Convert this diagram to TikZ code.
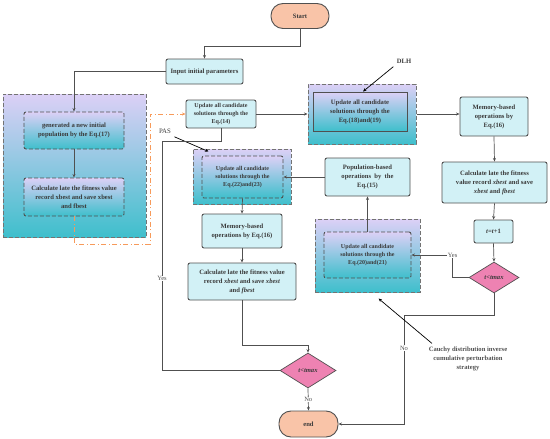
\documentclass[tikz,border=0pt]{standalone}
\usepackage{fontspec}
\setmainfont{Liberation Serif}
\usepackage{xcolor}
\usetikzlibrary{positioning,calc,shapes.geometric,arrows.meta}
\definecolor{linegray}{HTML}{505050}
\definecolor{textgray}{HTML}{3A3A3A}
\definecolor{cyanbox}{HTML}{D2F1F6}
\definecolor{lilac}{HTML}{DCD0F6}
\definecolor{tealbot}{HTML}{3FBFCC}
\definecolor{pinkdia}{HTML}{EE82B2}
\definecolor{salmon}{HTML}{F9C4A8}
\definecolor{orangeline}{HTML}{F79A5A}
\tikzset{
  txt/.style={font=\bfseries\fontsize{6.6}{9}\selectfont, text=textgray, align=center},
  smalltxt/.style={font=\bfseries\fontsize{6}{8}\selectfont, text=textgray, align=center},
  procbox/.style={draw=linegray, line width=0.9pt, rounded corners=2pt, fill=cyanbox, inner sep=1pt},
  gradbox/.style={top color=lilac, bottom color=tealbot},
  outerbox/.style={gradbox, draw=linegray!80, line width=1pt, dash pattern=on 4pt off 2pt},
  innerdash/.style={gradbox, draw=linegray, line width=0.9pt, rounded corners=2pt, dash pattern=on 4pt off 2pt, inner sep=1pt},
  innersolid/.style={gradbox, draw=linegray, line width=0.9pt, inner sep=1pt},
  termbox/.style={draw=linegray, line width=0.9pt, fill=salmon, rounded corners=12pt},
  decide/.style={diamond, draw=linegray, line width=0.7pt, fill=pinkdia, inner sep=0pt},
  flow/.style={draw=linegray, line width=0.7pt},
  lab/.style={font=\fontsize{6.5}{8}\selectfont, text=linegray, fill=white, inner sep=0.5pt},
  >={Stealth[length=3.5pt,width=3pt]}
}
\begin{document}
\begin{tikzpicture}[x=1pt, y=-1pt]
  \useasboundingbox (0,0) rectangle (550,439);

  % start and first block
  \node[termbox, txt, minimum width=58pt, minimum height=25pt] (start) at (300,16) {Start};
  \node[procbox, txt, minimum width=77pt, minimum height=25pt] (input) at (204.5,71.5) {Input initial parameters};

  % initialisation group
  \node[outerbox, minimum width=143pt, minimum height=143pt] (initbg) at (74.5,165.5) {};
  \node[innerdash, txt, minimum width=100pt, minimum height=37pt] (gen) at (74,130.5)
    {generated a new initial\\population by the Eq.(17)};
  \node[innerdash, txt, minimum width=100pt, minimum height=38pt] (calcA) at (74,197)
    {Calculate late the fitness value\\record xbest and save xbest\\and fbest};

  % switching step
  \node[procbox, smalltxt, minimum width=70pt, minimum height=28pt] (eqA) at (221,114)
    {Update all candidate\\solutions through the\\Eq.(14)};

  % DLH branch
  \node[outerbox, minimum width=108pt, minimum height=60pt] (dlhbg) at (362,114) {};
  \node[innersolid, txt, minimum width=94pt, minimum height=39pt] (dlh) at (360,111.5)
    {Update all candidate\\solutions through the\\Eq.(18)and(19)};
  \node[txt] (dlhlab) at (404,61) {DLH};
  \node[procbox, txt, minimum width=68pt, minimum height=39pt] (memR) at (494,116.5)
    {Memory-based\\operations by\\Eq.(16)};
  \node[procbox, txt, minimum width=105pt, minimum height=41pt] (calcR) at (494.5,182.5)
    {Calculate late the fitness\\value record \textit{xbest} and save\\\textit{xbest} and \textit{fbest}};
  \node[procbox, txt, minimum width=39pt, minimum height=23pt] (tinc) at (493.5,231.5) {\textit{t=t}+1};
  \node[decide, txt, minimum width=50pt, minimum height=31pt] (chkR) at (494,277.5) {\textit{t<tmax}};

  % Cauchy branch
  \node[outerbox, minimum width=105pt, minimum height=73pt] (caubg) at (367.5,255.5) {};
  \node[innerdash, smalltxt, minimum width=87pt, minimum height=46pt] (cau) at (367.5,255)
    {Update all candidate\\solutions through the\\Eq.(20)and(21)};
  \node[txt, text=linegray] (caulab) at (468,359)
    {Cauchy distribution inverse\\cumulative perturbation\\strategy};
  \node[procbox, txt, minimum width=85pt, minimum height=38pt] (pop) at (367.5,177)
    {Population-based\\operations~~by~~the\\Eq.(15)};

  % PAS branch
  \node[outerbox, minimum width=98pt, minimum height=55pt] (pasbg) at (242,176.5) {};
  \node[innerdash, smalltxt, minimum width=81pt, minimum height=42pt] (pas) at (242.5,177)
    {Update all candidate\\solutions through the\\Eq.(22)and(23)};
  \node[font=\fontsize{6.8}{8}\selectfont, text=textgray] (paslab) at (165,131) {PAS};
  \node[procbox, txt, minimum width=80pt, minimum height=34pt] (memL) at (242,231)
    {Memory-based\\operations by Eq.(16)};
  \node[procbox, txt, minimum width=108pt, minimum height=37pt] (calcL) at (242,281.5)
    {Calculate late the fitness value\\record \textit{xbest} and save \textit{xbest}\\and \textit{fbest}};
  \node[decide, txt, minimum width=56pt, minimum height=35pt] (chkL) at (308,370.5) {\textit{t<tmax}};
  \node[termbox, txt, minimum width=59pt, minimum height=26pt] (end) at (308.5,424) {end};

  \coordinate (orng) at (150,244);
  \coordinate (yesturn) at (162,141);
  \coordinate (noturn) at (404,424);

  % connectors
  \draw[flow,->] (start.south) -- ++(0,17.5) -| (input.north);
  \draw[flow,->] (input.west) -| (gen.north);
  \draw[flow,->] (gen.south) -- (calcA.north);
  \draw[orangeline, line width=0.9pt, dash pattern=on 5pt off 2.5pt on 1pt off 2.5pt, ->]
    (calcA.south) |- (orng) |- (eqA.west);
  \draw[flow,->] (eqA.east) -- (dlhbg.west);
  \draw[line width=0.7pt,->] (dlhlab.south west) -- ([xshift=3pt]dlh.north);
  \draw[flow,->] (dlhbg.east) -- (dlhbg.east -| memR.west);
  \draw[flow,->] (memR.south) -- (calcR.north);
  \draw[flow,->] (calcR.south) -- (tinc.north);
  \draw[flow,->] (tinc.south) -- (chkR.north);
  \draw[flow,->] (chkR.west) -- ++(-16,0) |- node[lab, pos=0.5] {Yes} (cau.east);
  \draw[flow,->] (chkR.south) -- ++(0,22) -| node[lab, pos=0.65] {No} (noturn) -- (end.east);
  \draw[line width=0.7pt,->] ([xshift=-36pt]caulab.north) -- ([xshift=11pt,yshift=-6pt]caubg.south);
  \draw[flow,->] (cau.north) -- (pop.south);
  \draw[flow,->] (pop.west) -- (pas.east);
  \draw[line width=0.7pt,->] (paslab.south east) -- ([xshift=16pt,yshift=-3pt]pasbg.north west);
  \draw[flow,->] (pas.south) -- (memL.north);
  \draw[flow,->] (memL.south) -- (calcL.north);
  \draw[flow,->] (calcL.south) -- ++(0,45) -| (chkL.north);
  \draw[flow] (chkL.west) -| node[lab, pos=0.7] {Yes} (yesturn) -| (eqA.south);
  \draw[flow,->] (chkL.south) -- node[lab] {No} (end.north);
\end{tikzpicture}
\end{document}
